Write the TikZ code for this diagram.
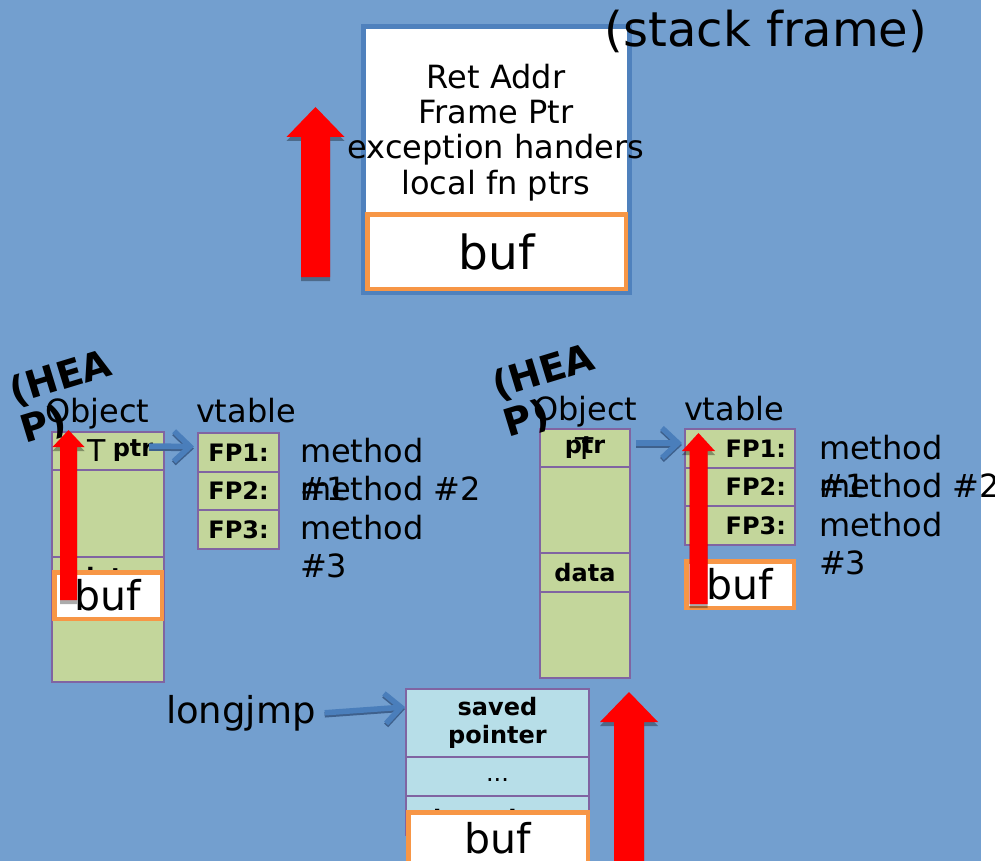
\documentclass[tikz,border=0pt]{standalone}
\usepackage{fontspec}
\setmainfont{DejaVu Sans}
\usetikzlibrary{arrows.meta}

\definecolor{slidebg}{RGB}{115,159,207}
\definecolor{framebd}{RGB}{79,129,189}
\definecolor{bufbd}{RGB}{247,150,70}
\definecolor{cellgreen}{RGB}{195,214,155}
\definecolor{cellbd}{RGB}{128,100,162}
\definecolor{cellblue}{RGB}{183,222,232}
\definecolor{ptrblue}{RGB}{74,126,187}
\definecolor{ptrshade}{RGB}{62,96,140}

% block arrow pointing up: centre x, tip y, head half-width, head base y, shaft half-width, shaft bottom y
\newcommand{\bigredarrow}[6]{%
  \begin{scope}[shift={(#1,0)}]
    \fill[black, opacity=0.33, yshift=-4pt] (0,#2) -- (#3,#4) -- (#5,#4) -- (#5,#6) -- (-#5,#6) -- (-#5,#4) -- (-#3,#4) -- cycle;
    \fill[red] (0,#2) -- (#3,#4) -- (#5,#4) -- (#5,#6) -- (-#5,#6) -- (-#5,#4) -- (-#3,#4) -- cycle;
  \end{scope}}

\tikzset{
  every node/.style={inner sep=0pt, outer sep=0pt},
  lbl/.style={font=\fontsize{32}{38}\selectfont},
  boldlbl/.style={font=\fontsize{24}{28}\selectfont\bfseries},
  objcell/.style={draw=cellbd, line width=2pt, fill=cellgreen, rectangle},
  jmpcell/.style={draw=cellbd, line width=2pt, fill=cellblue, rectangle},
  bufbox/.style={draw=bufbd, line width=4.5pt, fill=white, rectangle},
  buftext/.style={font=\fontsize{41}{48}\selectfont},
  ptrlink/.style={draw=ptrblue, line width=5.5pt, -{Straight Barb[length=16pt,width=30pt]}},
  ptrlinkshade/.style={draw=ptrshade, line width=5.5pt, -{Straight Barb[length=16pt,width=30pt]}},
  heaplbl/.style={font=\fontsize{38}{44}\selectfont\bfseries, anchor=base west},
}

\begin{document}
\begin{tikzpicture}[x=1pt,y=-1pt]
\useasboundingbox (0,0) rectangle (995,861);
\fill[slidebg] (0,0) rectangle (981,861);

% ---------- stack frame ----------
\node[draw=framebd, line width=5pt, fill=white, minimum width=266pt, minimum height=266pt] (frame) at (496.5,159.5) {};
\node[bufbox, minimum width=258.5pt, minimum height=74.5pt, font=\fontsize{47}{56}\selectfont] (fbuf) at (496.5,251.5) {buf};
\node[anchor=north, align=center, font=\fontsize{32}{35.3}\selectfont] (slots) at (496,64) {Ret Addr\\Frame Ptr\\exception handers\\local fn ptrs};
\node[anchor=base, font=\fontsize{48}{56}\selectfont] (title) at (766,47) {(stack frame)};
\bigredarrow{315.5}{107}{29}{137}{14.5}{277}

% ---------- heap object, left ----------
\node[lbl, anchor=base west] (objL) at (45,422) {Object};
\node[lbl, anchor=base west] (vtL) at (196,422) {vtable};
\node[objcell, minimum width=112pt, minimum height=38pt] (oL1) at (108,451) {};
\node[objcell, minimum width=112pt, minimum height=87pt] (oL2) at (108,513.5) {};
\node[objcell, minimum width=112pt, minimum height=39pt, boldlbl] (oL3) at (108,576.5) {data};
\node[objcell, minimum width=112pt, minimum height=86pt] (oL4) at (108,639) {};
\node[anchor=base, font=\fontsize{30}{36}\selectfont] (tL) at (97,461) {T};
\node[boldlbl] (pL) at (133,451) {ptr};
\node[objcell, minimum width=81pt, minimum height=39pt, boldlbl] (vL1) at (238.5,452.5) {FP1:};
\node[objcell, minimum width=81pt, minimum height=38pt, boldlbl] (vL2) at (238.5,491) {FP2:};
\node[objcell, minimum width=81pt, minimum height=39pt, boldlbl] (vL3) at (238.5,529.5) {FP3:};
\node[lbl, anchor=north west, align=left] (mL1) at (300,438) {method\\\#1};
\node[lbl, anchor=base west] (mL2) at (300,500) {method \#2};
\node[lbl, anchor=north west, align=left] (mL3) at (300,515) {method\\\#3};
\begin{scope}[transform canvas={yshift=-2pt}]
  \draw[ptrlinkshade] ([xshift=-15pt,yshift=5pt]oL1.east) -- ([xshift=-4pt,yshift=6pt]vL1.west);
\end{scope}
\draw[ptrlink] ([xshift=-15pt,yshift=5pt]oL1.east) -- ([xshift=-4pt,yshift=6pt]vL1.west);
\node[bufbox, minimum width=107.5pt, minimum height=46.5pt, buftext] (bufL) at (108,595.5) {buf};
\bigredarrow{68.5}{430}{16}{447}{8.5}{600}
\begin{scope}[shift={(14,405)}, rotate=17, transform shape]
  \node[heaplbl] (heapLa) at (0,0) {(HEA};
  \node[heaplbl] (heapLb) at (0,40) {P)};
\end{scope}

% ---------- heap object, right ----------
\node[lbl, anchor=base west] (objR) at (533,420) {Object};
\node[lbl, anchor=base west] (vtR) at (684,420) {vtable};
\node[objcell, minimum width=90pt, minimum height=38pt] (oR1) at (585,448) {};
\node[objcell, minimum width=90pt, minimum height=86pt] (oR2) at (585,510) {};
\node[objcell, minimum width=90pt, minimum height=39pt, boldlbl] (oR3) at (585,572.5) {data};
\node[objcell, minimum width=90pt, minimum height=86pt] (oR4) at (585,635) {};
\node[boldlbl] (pR) at (585,448) {ptr};
\node[anchor=base, font=\fontsize{30}{36}\selectfont] (tR) at (585,459) {T};
\node[objcell, minimum width=110pt, minimum height=39pt] (vR1) at (740,448.5) {};
\node[objcell, minimum width=110pt, minimum height=38pt] (vR2) at (740,487) {};
\node[objcell, minimum width=110pt, minimum height=39pt] (vR3) at (740,525.5) {};
\node[boldlbl, anchor=east] (fR1) at ([xshift=-9pt]vR1.east) {FP1:};
\node[boldlbl, anchor=east] (fR2) at ([xshift=-9pt]vR2.east) {FP2:};
\node[boldlbl, anchor=east] (fR3) at ([xshift=-9pt]vR3.east) {FP3:};
\node[lbl, anchor=north west, align=left] (mR1) at (819,435) {method\\\#1};
\node[lbl, anchor=base west] (mR2) at (819,497) {method \#2};
\node[lbl, anchor=north west, align=left] (mR3) at (819,512) {method\\\#3};
\begin{scope}[transform canvas={yshift=-2pt}]
  \draw[ptrlinkshade] ([xshift=6pt,yshift=5pt]oR1.east) -- ([xshift=-3pt,yshift=5.5pt]vR1.west);
\end{scope}
\draw[ptrlink] ([xshift=6pt,yshift=5pt]oR1.east) -- ([xshift=-3pt,yshift=5.5pt]vR1.west);
\node[bufbox, minimum width=107.5pt, minimum height=46.5pt, buftext] (bufR) at (740,584.5) {buf};
\bigredarrow{698.5}{433}{16.5}{451}{9}{604}
\begin{scope}[shift={(497,399)}, rotate=17, transform shape]
  \node[heaplbl] (heapRa) at (0,0) {(HEA};
  \node[heaplbl] (heapRb) at (0,40) {P)};
\end{scope}

% ---------- jmp_buf ----------
\node[jmpcell, minimum width=183pt, minimum height=68pt, boldlbl, align=center] (sv) at (497.5,723) {saved\\pointer};
\node[jmpcell, minimum width=183pt, minimum height=39pt] (dots) at (497.5,776.5) {};
\node[anchor=base, font=\fontsize{24}{28}\selectfont] (dotstxt) at (497.5,781) {...};
\node[jmpcell, minimum width=183pt, minimum height=39pt] (thirdcell) at (497.5,815.5) {};
\node[boldlbl, anchor=base] (thirdtxt) at (497.5,827) {the pointer};
\node[bufbox, minimum width=179.5pt, minimum height=51.5pt, buftext] (bufB) at (498,838) {buf};
\node[anchor=base west, font=\fontsize{37}{44}\selectfont] (lj) at (166,723) {longjmp};
\begin{scope}[transform canvas={yshift=-2pt}]
  \draw[ptrlinkshade] ([xshift=9pt]lj.east) -- ([xshift=-1pt,yshift=16pt]sv.west);
\end{scope}
\draw[ptrlink] ([xshift=9pt]lj.east) -- ([xshift=-1pt,yshift=16pt]sv.west);
\bigredarrow{629}{692}{29}{722}{15}{875}
\end{tikzpicture}
\end{document}
